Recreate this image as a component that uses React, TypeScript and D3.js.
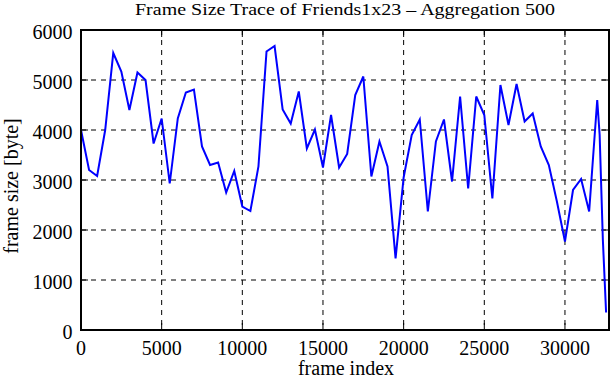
import * as d3 from 'd3';
import React, { FC, useEffect, useRef } from 'react';

const frameIndex = [
  0, 500, 1000, 1500, 2000, 2500, 3000, 3500, 4000, 4500, 5000, 5500, 6000, 6500,
  7000, 7500, 8000, 8500, 9000, 9500, 10000, 10500, 11000, 11500, 12000, 12500,
  13000, 13500, 14000, 14500, 15000, 15500, 16000, 16500, 17000, 17500, 18000,
  18500, 19000, 19500, 20000, 20500, 21000, 21500, 22000, 22500, 23000, 23500,
  24000, 24500, 25000, 25500, 26000, 26500, 27000, 27500, 28000, 28500, 29000,
  29500, 30000, 30500, 31000, 31500, 32000, 32150, 32350, 32550
];

const frameSize = [
  4000, 3200, 3080, 4000, 5540, 5170, 4400, 5150, 5000, 3730, 4230, 2930, 4230, 4750,
  4810, 3670, 3300, 3350, 2750, 3180, 2470, 2380, 3270, 5570, 5680, 4410,
  4130, 4770, 3630, 4010, 3250, 4300, 3250, 3520, 4700, 5070, 3070,
  3770, 3270, 1430, 3050, 3900, 4210, 2370, 3770, 4210, 2970, 4670,
  2830, 4670, 4300, 2630, 4900, 4100, 4920, 4170, 4330, 3670, 3300,
  2570, 1770, 2800, 3020, 2370, 4600, 3900, 1800, 350
];

const xTicks = [0, 5000, 10000, 15000, 20000, 25000, 30000];
const yTicks = [0, 1000, 2000, 3000, 4000, 5000, 6000];

const width = 611;
const height = 380;
const left = 81;
const right = 609;
const top = 30;
const bottom = 330;

const FrameChart: FC = (): JSX.Element => {
  const ref = useRef<SVGSVGElement>(null);

  useEffect(() => {
    const svg = d3.select(ref.current);
    svg.selectAll('*').remove();

    const x = d3.scaleLinear().domain([0, 32730]).range([left, right]);
    const y = d3.scaleLinear().domain([0, 6000]).range([bottom, top]);

    const font = 'Liberation Serif, Times New Roman, serif';

    // dashed grid
    const grid = svg.append('g').attr('stroke', '#000').attr('stroke-dasharray', '5,5').attr('stroke-width', 1);
    xTicks.slice(1).forEach((t) => {
      grid.append('line').attr('x1', x(t)).attr('x2', x(t)).attr('y1', top).attr('y2', bottom);
    });
    yTicks.slice(1, -1).forEach((t) => {
      grid.append('line').attr('x1', left).attr('x2', right).attr('y1', y(t)).attr('y2', y(t));
    });

    // mirrored inward ticks
    const tk = svg.append('g').attr('stroke', '#000').attr('stroke-width', 1);
    xTicks.forEach((t) => {
      tk.append('line').attr('x1', x(t)).attr('x2', x(t)).attr('y1', bottom).attr('y2', bottom - 7);
      tk.append('line').attr('x1', x(t)).attr('x2', x(t)).attr('y1', top).attr('y2', top + 7);
    });
    yTicks.forEach((t) => {
      tk.append('line').attr('x1', left).attr('x2', left + 7).attr('y1', y(t)).attr('y2', y(t));
      tk.append('line').attr('x1', right).attr('x2', right - 7).attr('y1', y(t)).attr('y2', y(t));
    });

    const line = d3
      .line<number>()
      .x((d, i) => x(frameIndex[i]))
      .y((d) => y(d));

    svg
      .append('path')
      .datum(frameSize)
      .attr('d', line)
      .attr('fill', 'none')
      .attr('stroke', '#0000ff')
      .attr('stroke-width', 2)
      .attr('stroke-linejoin', 'miter');

    svg
      .append('rect')
      .attr('x', left)
      .attr('y', top)
      .attr('width', right - left)
      .attr('height', bottom - top)
      .attr('fill', 'none')
      .attr('stroke', '#000')
      .attr('stroke-width', 2);

    svg
      .append('g')
      .selectAll('text')
      .data(xTicks)
      .enter()
      .append('text')
      .attr('x', (d) => x(d))
      .attr('y', 355)
      .attr('text-anchor', 'middle')
      .attr('font-family', font)
      .attr('font-size', 20)
      .text((d) => d);

    svg
      .append('g')
      .selectAll('text')
      .data(yTicks)
      .enter()
      .append('text')
      .attr('x', 72.5)
      .attr('y', (d) => y(d) + 9)
      .attr('text-anchor', 'end')
      .attr('font-family', font)
      .attr('font-size', 20)
      .text((d) => d);

    svg
      .append('text')
      .attr('x', 135)
      .attr('y', 15)
      .attr('font-family', font)
      .attr('font-size', 16)
      .attr('textLength', 420)
      .attr('lengthAdjust', 'spacingAndGlyphs')
      .text('Frame Size Trace of Friends1x23 \u2013 Aggregation 500');

    svg
      .append('text')
      .attr('x', 346)
      .attr('y', 375)
      .attr('text-anchor', 'middle')
      .attr('font-family', font)
      .attr('font-size', 20)
      .text('frame index');

    svg
      .append('text')
      .attr('transform', `translate(18, 186) rotate(-90)`)
      .attr('text-anchor', 'middle')
      .attr('font-family', font)
      .attr('font-size', 20)
      .text('frame size [byte]');
  }, []);

  return (
    <svg
      ref={ref}
      width={width}
      height={height}
      style={{ position: 'absolute', left: 0, top: 0, background: '#fff' }}
    />
  );
};

export default function App() {
  return <FrameChart />;
}
